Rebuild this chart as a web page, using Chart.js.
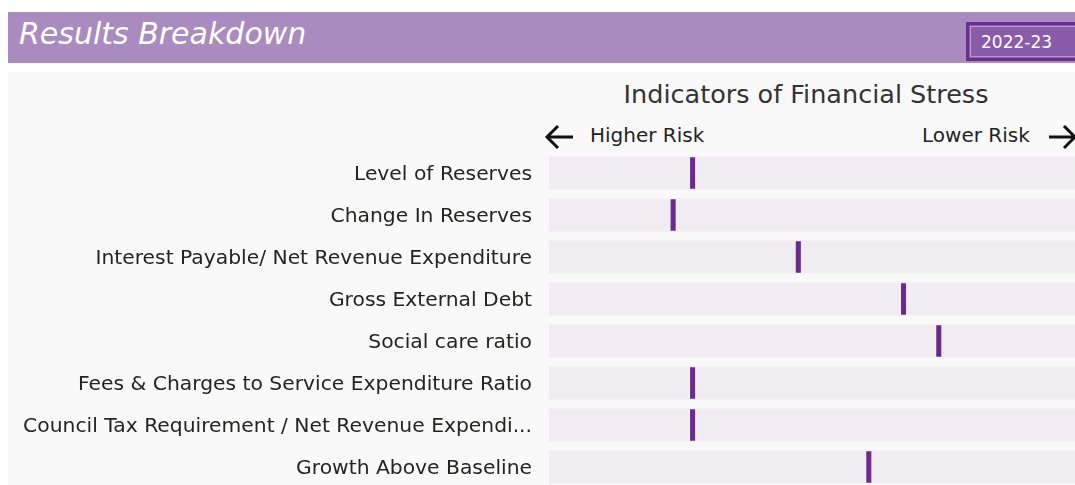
<!DOCTYPE html>
<html>
<head>
<meta charset="utf-8">
<script src="https://cdn.jsdelivr.net/npm/chart.js@4/dist/chart.umd.min.js"></script>
<style>
    body { margin: 0; width: 1075px; height: 485px; overflow: hidden; background: #fff; position: relative; font-family: "DejaVu Sans", Verdana, sans-serif; }
    .header { position: absolute; left: 8px; top: 12px; width: 1067px; height: 51px; background: #a98bbf; }
    .header .title { position: absolute; left: 11px; top: 4px; color: #fff; font-style: italic; font-size: 30px; }
    .year { position: absolute; left: 966px; top: 22px; width: 120px; height: 39px; box-sizing: border-box; border: 3px solid #6a2c91; background: #8a5ba8; }
    .year span { position: absolute; left: 1px; top: 1px; right: 1px; bottom: 1px; border: 1px solid #b79ccb; color: #fff; font-size: 17px; line-height: 31px; padding-left: 10px; }
    .panel { position: absolute; left: 8px; top: 72px; width: 1067px; height: 413px; background: #f9f9f9; }
    .ctitle { position: absolute; left: 506px; width: 600px; top: 79px; text-align: center; font-size: 25.5px; color: #333; }
    .risk { position: absolute; top: 123px; font-size: 20px; color: #252423; white-space: nowrap; }
    .arrow { position: absolute; top: 124px; }
    .wrap { position: absolute; left: 0; top: 152px; width: 1075px; height: 336px; }
</style>
</head>
<body>
<div class="header"><span class="title">Results Breakdown</span></div>
<div class="year"><span>2022-23</span></div>
<div class="panel"></div>
<div class="ctitle">Indicators of Financial Stress</div>
<svg class="arrow" style="left:544px" width="32" height="26" viewBox="0 0 32 26">
    <path d="M29 13 H4 M14 2 L3 13 L14 24" fill="none" stroke="#111" stroke-width="3" stroke-linejoin="miter"/>
</svg>
<div class="risk" style="left:590px">Higher Risk</div>
<div class="risk" style="left:922px">Lower Risk</div>
<svg class="arrow" style="left:1046px" width="32" height="26" viewBox="0 0 32 26">
    <path d="M3 13 H28 M18 2 L29 13 L18 24" fill="none" stroke="#111" stroke-width="3" stroke-linejoin="miter"/>
</svg>
<div class="wrap"><canvas id="chart" width="1075" height="336"></canvas></div>
<script>
const categories = [
    "Level of Reserves",
    "Change In Reserves",
    "Interest Payable/ Net Revenue Expenditure",
    "Gross External Debt",
    "Social care ratio",
    "Fees & Charges to Service Expenditure Ratio",
    "Council Tax Requirement / Net Revenue Expendi...",
    "Growth Above Baseline",
];
// position of each indicator between higher risk (0) and lower risk (1)
const scores = [0.273, 0.236, 0.474, 0.674, 0.741, 0.273, 0.273, 0.608];
const scaleMax = 1;

const markerHalf = 0.0048;

new Chart(document.getElementById("chart"), {
    type: "bar",
    data: {
        labels: categories,
        datasets: [
            {
                label: "Score",
                data: scores.map((v) => [v - markerHalf, v + markerHalf]),
                backgroundColor: "#6a2a8e",
                barPercentage: 0.75,
                categoryPercentage: 1,
                grouped: false,
                order: 0,
            },
            {
                label: "Track",
                data: categories.map(() => [0, scaleMax]),
                backgroundColor: "#f1ebf2",
                barPercentage: 0.786,
                categoryPercentage: 1,
                grouped: false,
                order: 1,
            },
        ],
    },
    options: {
        indexAxis: "y",
        responsive: false,
        animation: false,
        layout: { padding: 0 },
        plugins: {
            legend: { display: false },
            tooltip: { enabled: false },
        },
        scales: {
            x: { min: 0, max: scaleMax, display: false },
            y: {
                grid: { display: false, drawTicks: false },
                border: { display: false },
                ticks: {
                    color: "#252423",
                    padding: 17,
                    labelOffset: 2,
                    font: { family: "DejaVu Sans", size: 20.3 },
                },
                afterFit: (scale) => {
                    scale.width = 549;
                    // rows fill the whole canvas height
                    scale.paddingTop = 0;
                    scale.paddingBottom = 0;
                },
            },
        },
    },
});
</script>
</body>
</html>
